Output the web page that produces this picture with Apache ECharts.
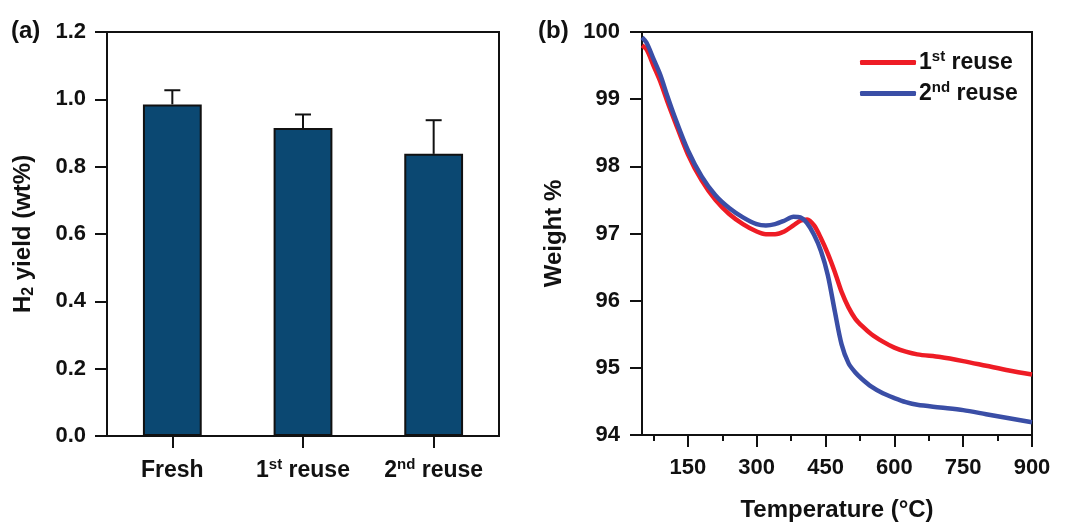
<!DOCTYPE html>
<html><head><meta charset="utf-8">
<script src="https://cdn.jsdelivr.net/npm/echarts@6/dist/echarts.min.js"></script>
<style>html,body{margin:0;padding:0;background:#fff}#c{width:1071px;height:527px}</style>
</head><body><div id="c"></div>
<script>
// ---- Panel (a) data ----
const categories = ['Fresh', '1st reuse', '2nd reuse'];
const h2Yield = [0.985, 0.915, 0.838];
const h2Err = [0.042, 0.040, 0.100];

// ---- Panel (b) data ----
const temps = [50,60,75,90,105,120,150,180,210,240,270,300,320,340,360,380,395,410,425,440,455,470,485,500,515,530,550,575,600,625,650,700,750,800,850,900];
const reuse1 = [99.80,99.74,99.50,99.26,98.97,98.70,98.18,97.79,97.50,97.29,97.14,97.03,96.99,96.99,97.03,97.12,97.19,97.21,97.12,96.93,96.70,96.43,96.13,95.90,95.73,95.62,95.50,95.39,95.30,95.24,95.20,95.16,95.10,95.03,94.96,94.90];
const reuse2 = [99.92,99.84,99.60,99.36,99.05,98.76,98.24,97.85,97.57,97.38,97.24,97.14,97.12,97.14,97.19,97.25,97.24,97.15,96.98,96.74,96.38,95.85,95.35,95.07,94.93,94.83,94.72,94.62,94.55,94.49,94.45,94.41,94.37,94.31,94.25,94.19];
const seriesNames = ['1st reuse', '2nd reuse'];
const xTicksB = [150, 300, 450, 600, 750, 900];
const xMinorB = [75, 225, 375, 525, 675, 825];

const FONT = "'Liberation Sans', Arial, sans-serif";
const INK = '#111';
function supLabel(s) {
  const m = s.match(/^(\d)(st|nd|rd|th)(.*)$/);
  if (!m) return '{n|' + s + '}';
  return '{n|' + m[1] + '}{sup|' + m[2] + '}{n|' + m[3] + '}';
}
function mkRich(size) {
  const s = Math.round(size * 0.65);
  return {
    n: {fontFamily: FONT, fontWeight: 'bold', fontSize: size, color: INK, lineHeight: size + 4},
    sup: {fontFamily: FONT, fontWeight: 'bold', fontSize: s, color: INK, verticalAlign: 'top', lineHeight: size + 4, padding: [0, 0, Math.round(size * 0.45), 0]}
  };
}
const tickLabel = {fontFamily: FONT, fontWeight: 'bold', fontSize: 22, color: INK};
const axLine = {show: true, lineStyle: {color: INK, width: 2}};

const chart = echarts.init(document.getElementById('c'), null, {renderer: 'canvas'});
chart.setOption({
  animation: false,
  backgroundColor: '#fff',
  graphic: [
    {type: 'text', left: 11, top: 19, style: {text: '(a)', font: 'bold 24px ' + FONT, fill: INK}},
    {type: 'text', left: 538, top: 19, style: {text: '(b)', font: 'bold 24px ' + FONT, fill: INK}}
  ],
  grid: [
    {left: 107, top: 32, width: 392, height: 404, show: true, borderColor: INK, borderWidth: 2, backgroundColor: 'transparent'},
    {left: 642, top: 32, width: 390, height: 404, show: true, borderColor: INK, borderWidth: 2, backgroundColor: 'transparent'}
  ],
  legend: {
    data: seriesNames,
    orient: 'vertical',
    left: 855, top: 44,
    itemWidth: 56, itemHeight: 5, itemGap: 6,
    icon: 'roundRect',
    formatter: supLabel,
    textStyle: {rich: mkRich(23), padding: [0, 0, 0, -2]}
  },
  xAxis: [
    {type: 'category', gridIndex: 0, data: categories,
     axisLine: axLine,
     axisTick: {show: true, alignWithLabel: true, length: 12, lineStyle: {color: INK, width: 2}},
     axisLabel: {interval: 0, margin: 21, formatter: supLabel, rich: mkRich(23)}},
    {type: 'value', gridIndex: 1, min: 50, max: 900, position: 'bottom',
     name: 'Temperature (°C)', nameLocation: 'middle', nameGap: 63,
     nameTextStyle: {fontFamily: FONT, fontWeight: 'bold', fontSize: 24, color: INK},
     axisLine: axLine, splitLine: {show: false},
     axisTick: {show: true, length: 12, customValues: xTicksB, lineStyle: {color: INK, width: 2}},
     axisLabel: Object.assign({margin: 22, customValues: xTicksB}, tickLabel)},
    {type: 'value', gridIndex: 1, min: 50, max: 900, position: 'bottom',
     axisLine: {show: false}, splitLine: {show: false},
     axisTick: {show: true, length: 6, customValues: xMinorB, lineStyle: {color: INK, width: 2}},
     axisLabel: {show: false}}
  ],
  yAxis: [
    {type: 'value', gridIndex: 0, min: 0, max: 1.2, interval: 0.2,
     name: '{n|H}{sub|2}{n| yield (wt%)}', nameLocation: 'middle', nameGap: 70, nameRotate: 90,
     nameTextStyle: {rich: {
       n: {fontFamily: FONT, fontWeight: 'bold', fontSize: 24, color: INK, lineHeight: 28},
       sub: {fontFamily: FONT, fontWeight: 'bold', fontSize: 16, color: INK, verticalAlign: 'bottom', lineHeight: 28, padding: [10, 0, 0, 0]}
     }},
     axisLine: axLine, splitLine: {show: false},
     axisTick: {show: true, length: 12, lineStyle: {color: INK, width: 2}},
     axisLabel: Object.assign({margin: 21, formatter: v => v.toFixed(1)}, tickLabel)},
    {type: 'value', gridIndex: 1, min: 94, max: 100, interval: 1,
     name: 'Weight %', nameLocation: 'middle', nameGap: 76, nameRotate: 90,
     nameTextStyle: {fontFamily: FONT, fontWeight: 'bold', fontSize: 24, color: INK},
     axisLine: axLine, splitLine: {show: false},
     axisTick: {show: true, length: 12, lineStyle: {color: INK, width: 2}},
     axisLabel: Object.assign({margin: 22}, tickLabel)}
  ],
  series: [
    {type: 'bar', xAxisIndex: 0, yAxisIndex: 0, data: h2Yield, barWidth: '45%',
     itemStyle: {color: '#0b4872', borderColor: INK, borderWidth: 2}},
    {type: 'custom', xAxisIndex: 0, yAxisIndex: 0, z: 5,
     data: categories.map((c, i) => [i, h2Yield[i], h2Err[i]]),
     renderItem: function (params, api) {
       const x = api.value(0), y = api.value(1), e = api.value(2);
       const p0 = api.coord([x, y]);
       const p1 = api.coord([x, y + e]);
       const st = {stroke: INK, lineWidth: 2};
       return {type: 'group', children: [
         {type: 'line', shape: {x1: p0[0], y1: p0[1], x2: p1[0], y2: p1[1]}, style: st},
         {type: 'line', shape: {x1: p1[0] - 8, y1: p1[1], x2: p1[0] + 8, y2: p1[1]}, style: st}
       ]};
     }},
    {name: seriesNames[0], type: 'line', xAxisIndex: 1, yAxisIndex: 1, smooth: 0.3, showSymbol: false,
     data: temps.map((t, i) => [t, reuse1[i]]),
     lineStyle: {color: '#ee1c25', width: 4.5}, itemStyle: {color: '#ee1c25'}},
    {name: seriesNames[1], type: 'line', xAxisIndex: 1, yAxisIndex: 1, smooth: 0.3, showSymbol: false,
     data: temps.map((t, i) => [t, reuse2[i]]),
     lineStyle: {color: '#3a4ea6', width: 4.5}, itemStyle: {color: '#3a4ea6'}}
  ]
});
</script></body></html>
